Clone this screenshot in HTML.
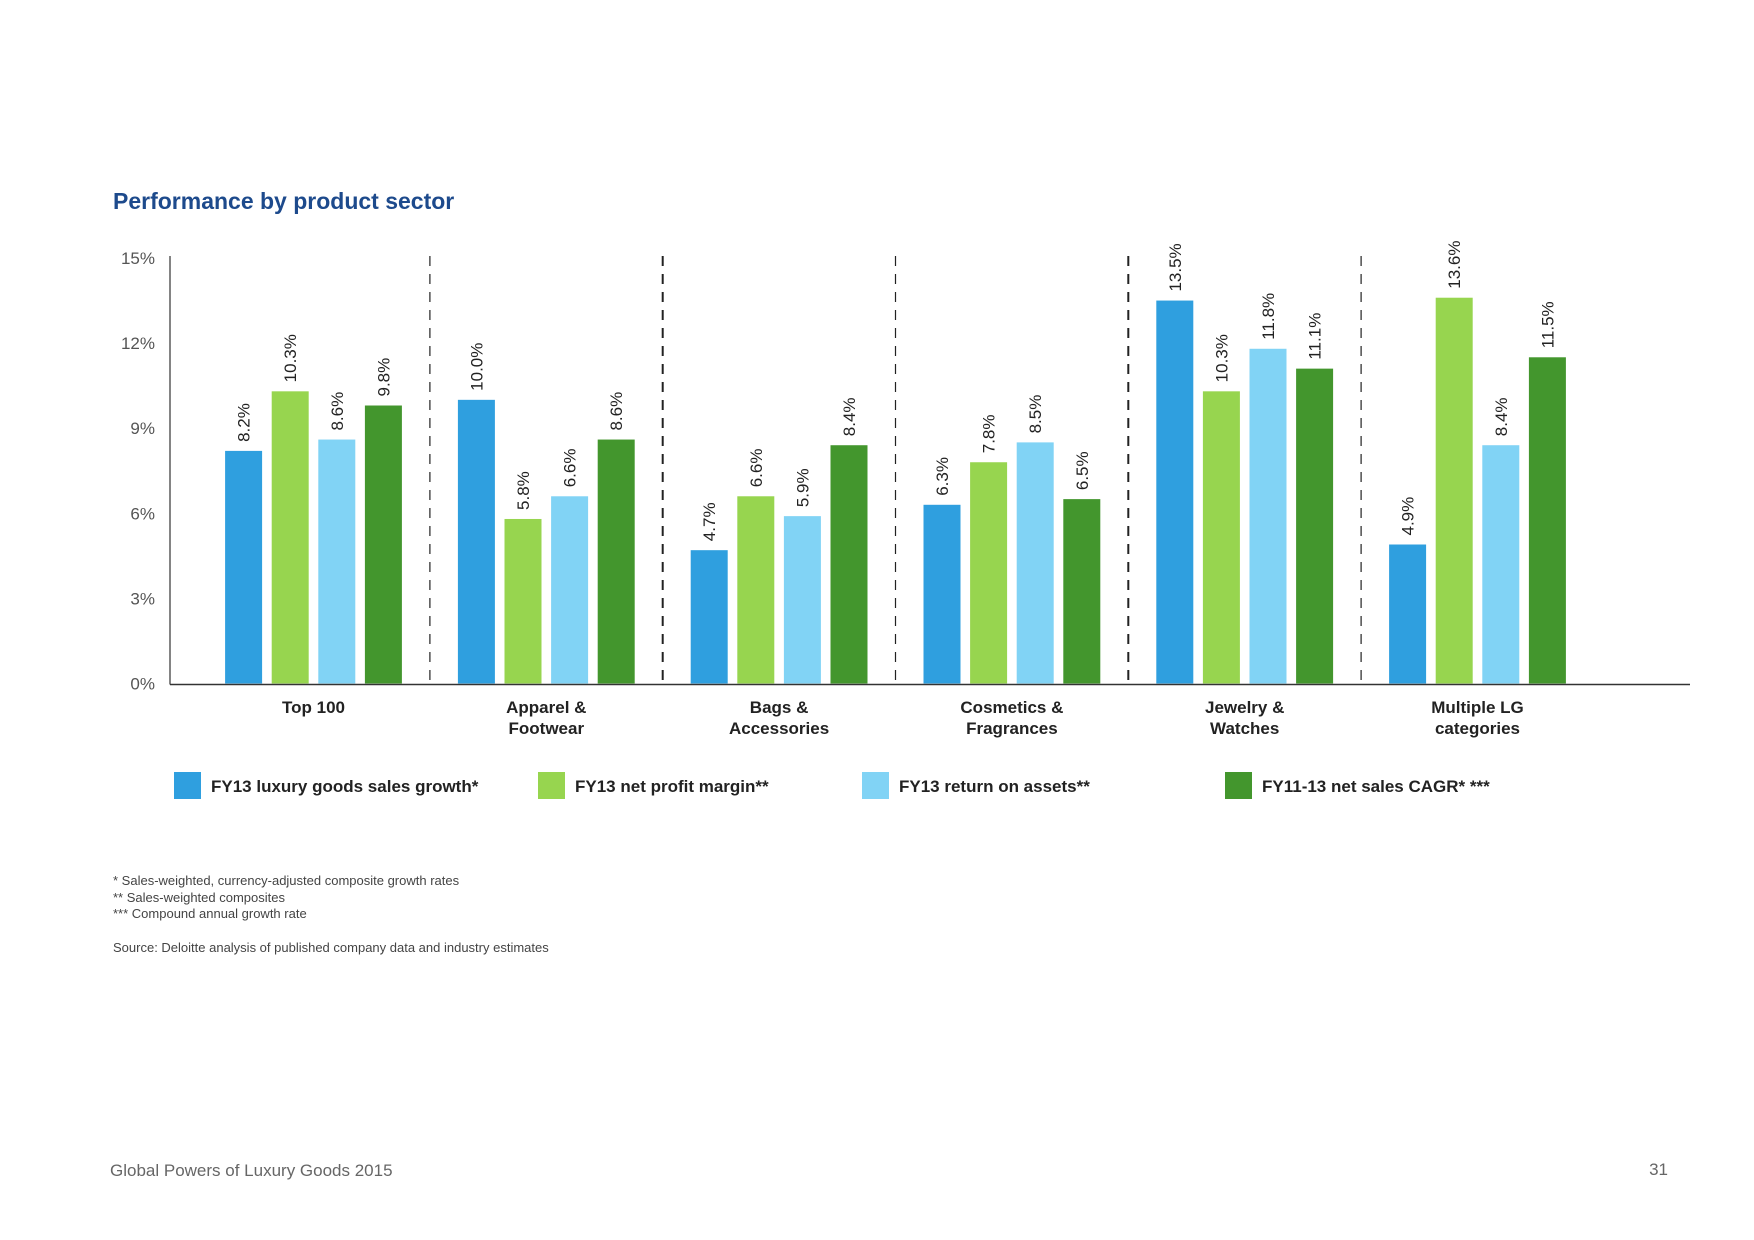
<!DOCTYPE html>
<html><head><meta charset="utf-8">
<style>
html,body{margin:0;padding:0;background:#fff;}
body{width:1754px;height:1240px;position:relative;overflow:hidden;font-family:"Liberation Sans",sans-serif;}
svg{position:absolute;left:0;top:0;}
</style></head>
<body>
<svg id="chart" width="1754" height="1240"></svg>
<script>
const categories = [["Top 100"],["Apparel &","Footwear"],["Bags &","Accessories"],["Cosmetics &","Fragrances"],["Jewelry &","Watches"],["Multiple LG","categories"]];
const seriesNames = ["FY13 luxury goods sales growth*","FY13 net profit margin**","FY13 return on assets**","FY11-13 net sales CAGR* ***"];
const salesGrowth = [8.2,10.0,4.7,6.3,13.5,4.9];
const profitMargin = [10.3,5.8,6.6,7.8,10.3,13.6];
const returnOnAssets = [8.6,6.6,5.9,8.5,11.8,8.4];
const salesCagr = [9.8,8.6,8.4,6.5,11.1,11.5];
const yTicks = [0,3,6,9,12,15];
const yTickLabels = ["0%","3%","6%","9%","12%","15%"];
const series = [salesGrowth, profitMargin, returnOnAssets, salesCagr];
const colors = ["#2f9fdf","#97d54f","#81d3f5","#43962d"];

const NS="http://www.w3.org/2000/svg";
const svg=document.getElementById('chart');
function mk(tag,attrs,parent){const e=document.createElementNS(NS,tag);for(const k in attrs)e.setAttribute(k,attrs[k]);(parent||svg).appendChild(e);return e;}
const y0=683.5, yTop=258, yMax=15;
function yScale(v){return y0-(v/yMax)*(y0-yTop);}
const groupCenter0=313.5, groupPitch=232.8, barPitch=46.6, barW=37;
function xBar(g,s){return groupCenter0+g*groupPitch+(s-1.5)*barPitch-barW/2;}

let t=mk('text',{x:113,y:209,'font-size':23,'font-weight':'bold',fill:'#1d4a8c'});
t.textContent="Performance by product sector";



yTicks.forEach((v,i)=>{
  const l=mk('text',{x:155,y:yScale(v)+6,'text-anchor':'end','font-size':17,fill:'#555'});
  l.textContent=yTickLabels[i];
  
  
});
let ax=mk('line',{x1:170,y1:yTop-2,x2:170,y2:y0+1,stroke:'#333','stroke-width':1.2});


let bx=mk('line',{x1:170,y1:y0+1,x2:1690,y2:y0+1,stroke:'#333','stroke-width':1.5});



for(let g=1;g<categories.length;g++){
  const x=groupCenter0+(g-0.5)*groupPitch;
  const bold=(g===2||g===4);
  const d=mk('line',{x1:x,y1:256,x2:x,y2:y0,stroke:'#222','stroke-width':bold?2:1.2,'stroke-dasharray':'10 8'});
  
  
}

categories.forEach((c,g)=>{
  const cx=groupCenter0+g*groupPitch;
  c.forEach((line,k)=>{
    const l=mk('text',{x:cx,y:713+k*21,'text-anchor':'middle','font-size':17,'font-weight':'bold',fill:'#222'});
    l.textContent=line;
    
    
  });
  series.forEach((arr,s)=>{
    const v=arr[g];
    const x=xBar(g,s), y=yScale(v);
    const r=mk('rect',{x:x,y:y,width:barW,height:y0-y,fill:colors[s]});
    
    
    const lx=x+barW/2+6, ly=y-9;
    const l=mk('text',{x:lx,y:ly,transform:`rotate(-90 ${lx} ${ly})`,'font-size':17,fill:'#222'});
    l.textContent=v.toFixed(1)+"%";
    
    
  });
});

const legendX=[174,538,862,1225];
seriesNames.forEach((n,s)=>{
  const r=mk('rect',{x:legendX[s],y:772,width:27,height:27,fill:colors[s]});
  
  
  const l=mk('text',{x:legendX[s]+37,y:792,'font-size':17,'font-weight':'bold',fill:'#222'});
  l.textContent=n;
  
  
});

const notes=[["* Sales-weighted, currency-adjusted composite growth rates",885],["** Sales-weighted composites",902],["*** Compound annual growth rate",918],["Source: Deloitte analysis of published company data and industry estimates",952]];
notes.forEach(n=>{
  const l=mk('text',{x:113,y:n[1],'font-size':13,fill:'#444'});
  l.textContent=n[0];
  
  
});
let f=mk('text',{x:110,y:1176,'font-size':17,fill:'#666'});
f.textContent="Global Powers of Luxury Goods 2015";


let p=mk('text',{x:1668,y:1175,'text-anchor':'end','font-size':17,fill:'#666'});
p.textContent="31";


</script>
</body></html>
